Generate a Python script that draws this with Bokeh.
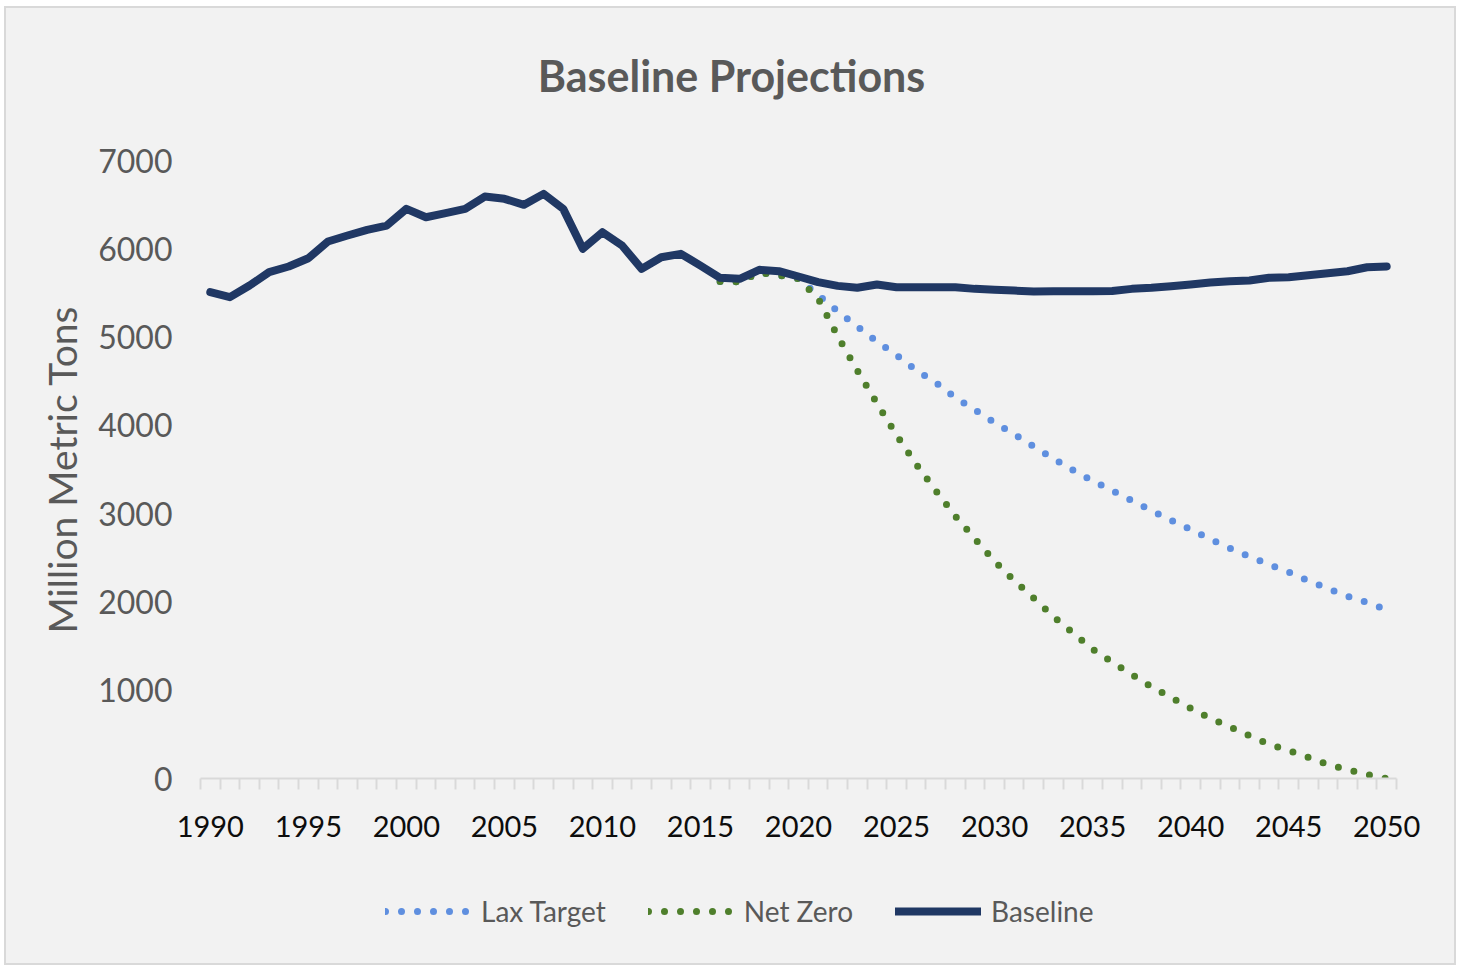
import numpy as np
from bokeh.plotting import figure
from bokeh.layouts import column
from bokeh.models import FixedTicker, Legend, LegendItem, ColumnDataSource, Label
from bokeh.embed import file_html
from bokeh.resources import INLINE

# ---------------- data ----------------
years = list(range(1990, 2051))
baseline = [5510, 5452, 5584, 5735, 5799, 5893, 6082, 6150, 6215, 6263,
            6452, 6357, 6403, 6452, 6592, 6566, 6498, 6622, 6452, 6000,
            6188, 6037, 5773, 5904, 5943, 5810, 5671, 5660, 5762, 5746,
            5686, 5622, 5580, 5558, 5595, 5565, 5565, 5565, 5565, 5546,
            5535, 5527, 5516, 5520, 5520, 5520, 5523, 5546, 5558, 5576,
            5595, 5618, 5633, 5640, 5671, 5678, 5701, 5723, 5746, 5791,
            5800]

proj_years = list(range(2016, 2051))
lax_target = [5630, 5625, 5730, 5700, 5660, 5478, 5293, 5120, 4950, 4795,
              4625, 4485, 4315, 4176, 4032, 3900, 3760, 3624, 3492, 3371,
              3262, 3149, 3035, 2926, 2820, 2711, 2609, 2514, 2424, 2337,
              2239, 2152, 2065, 1993, 1914]
net_zero = [5630, 5625, 5730, 5700, 5660, 5437, 5010, 4621, 4251, 3890,
            3560, 3262, 2971, 2715, 2461, 2243, 2042, 1835, 1650, 1465,
            1318, 1178, 1039, 917, 796, 680, 585, 484, 389, 317,
            241, 159, 99, 45, 0]

x_tick_labels = list(range(1990, 2051, 5))
y_ticks = [0, 1000, 2000, 3000, 4000, 5000, 6000, 7000]

title_text = "Baseline Projections"
y_title = "Million Metric Tons"
series_names = ["Lax Target", "Net Zero", "Baseline"]

# ---------------- styling ----------------
BG = "#f2f2f2"
GREY_TXT = "#595959"
FONT = "Lato"
C_LAX = "#5f8fdf"
C_NZ = "#4f7f2c"
C_BASE = "#203864"
W = 1448

LAX_STYLE = dict(line_color=C_LAX, line_width=7, line_dash="0 16", line_cap="round")
NZ_STYLE = dict(line_color=C_NZ, line_width=7, line_dash="0 16", line_cap="round")
BASE_STYLE = dict(line_color=C_BASE, line_width=8, line_join="round", line_cap="round")


def strip(height):
    f = figure(width=W, height=height, x_range=(0, 1), y_range=(0, 1),
               output_backend="svg", toolbar_location=None,
               x_axis_type=None, y_axis_type=None, min_border=0,
               background_fill_color=BG, border_fill_color=BG)
    f.background_fill_alpha = 0
    f.outline_line_color = None
    f.xgrid.visible = False
    f.ygrid.visible = False
    return f


# ---------------- title strip ----------------
p0 = strip(120)
p0.add_layout(Label(x=0.444, y=0.44, text=title_text, text_align="center",
                    text_baseline="middle", text_font=FONT,
                    text_font_style="bold", text_font_size="43px",
                    text_color=GREY_TXT))

# ---------------- main plot ----------------
p = figure(width=W, height=730,
           x_range=(1989.5, 2050.5), y_range=(0, 7000),
           output_backend="svg", toolbar_location=None,
           background_fill_color=BG, border_fill_color=BG,
           min_border_left=194, min_border_right=58,
           min_border_top=32, min_border_bottom=80)
p.background_fill_alpha = 0
p.outline_line_color = None
p.xgrid.visible = False
p.ygrid.visible = False

src_b = ColumnDataSource(dict(x=years, y=baseline))
src_l = ColumnDataSource(dict(x=proj_years, y=lax_target))
src_n = ColumnDataSource(dict(x=proj_years, y=net_zero))

p.line("x", "y", source=src_l, **LAX_STYLE)
p.line("x", "y", source=src_n, **NZ_STYLE)
p.line("x", "y", source=src_b, **BASE_STYLE)

xa = p.xaxis[0]
xa.ticker = FixedTicker(ticks=x_tick_labels,
                        minor_ticks=list(np.arange(1989.5, 2051, 1.0)))
xa.axis_line_color = "#d9d9d9"
xa.axis_line_width = 2
xa.major_tick_line_color = None
xa.major_tick_out = 0
xa.major_tick_in = 0
xa.minor_tick_line_color = "#d9d9d9"
xa.minor_tick_line_width = 2
xa.minor_tick_out = 11
xa.minor_tick_in = 0
xa.major_label_standoff = 26
xa.major_label_text_font = FONT
xa.major_label_text_font_size = "29px"
xa.major_label_text_color = "#0d0d0d"

ya = p.yaxis[0]
ya.ticker = FixedTicker(ticks=y_ticks)
ya.axis_line_color = None
ya.major_tick_line_color = None
ya.minor_tick_line_color = None
ya.major_tick_out = 0
ya.major_tick_in = 0
ya.major_label_standoff = 28
ya.major_label_text_font = FONT
ya.major_label_text_font_size = "32px"
ya.major_label_text_color = GREY_TXT
ya.axis_label = y_title
ya.axis_label_text_font = FONT
ya.axis_label_text_font_style = "normal"
ya.axis_label_text_font_size = "39px"
ya.axis_label_text_color = GREY_TXT
ya.axis_label_standoff = 10

# ---------------- legend strip ----------------
p2 = strip(105)
k_l = p2.line("x", "y", source=src_l, **LAX_STYLE)
k_n = p2.line("x", "y", source=src_n, **NZ_STYLE)
k_b = p2.line("x", "y", source=src_b, **BASE_STYLE)

legend = Legend(items=[LegendItem(label=series_names[0], renderers=[k_l]),
                       LegendItem(label=series_names[1], renderers=[k_n]),
                       LegendItem(label=series_names[2], renderers=[k_b])],
                orientation="horizontal", location=(185, 35))
legend.background_fill_alpha = 0
legend.border_line_color = None
legend.label_text_font = FONT
legend.label_text_font_size = "28px"
legend.label_text_color = GREY_TXT
legend.glyph_width = 86
legend.glyph_height = 30
legend.label_standoff = 10
legend.spacing = 42
legend.margin = 0
legend.padding = 0
p2.add_layout(legend, "center")

layout = column(p0, p, p2, spacing=0)
layout.styles = {"border": "2px solid #d9d9d9", "margin-left": "4px",
                 "margin-top": "6px", "background-color": BG}

open("out.html", "w").write(file_html(layout, INLINE))
